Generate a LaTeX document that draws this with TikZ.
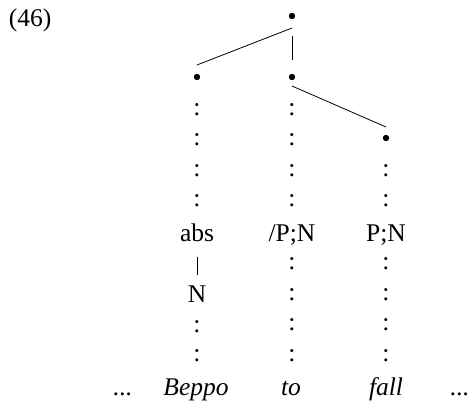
\documentclass[tikz,border=0pt]{standalone}
\usepackage{fontspec}
\setmainfont{Liberation Serif}
\begin{document}
\begin{tikzpicture}[x=1pt,y=-1pt,
  every node/.style={inner sep=0pt,outer sep=0pt,font=\fontsize{25.5}{30}\selectfont},
  dotnode/.style={circle,fill=black,minimum size=6.4pt},
  lbl/.style={anchor=base},
  colon/.style={anchor=base},
  link/.style={line width=0.8pt}]
\useasboundingbox (0,0) rectangle (471,403);
\node[lbl] (num) at (30,27) {(46)};
% dots
\node[dotnode] (r) at (292,16) {};
\node[dotnode] (a) at (197,77) {};
\node[dotnode] (m) at (292,77) {};
\node[dotnode] (b) at (386,138) {};
\draw[link] ([yshift=-12pt]r.center) -- ([yshift=12pt]a.center);
\draw[link] ([yshift=-20pt]r.center) -- ([yshift=17pt]m.center);
\draw[link] ([yshift=-9pt]m.center) -- ([yshift=11pt]b.center);
% colons upper
\foreach \y [count=\i] in {116,146,177,207}{
  \node[colon] (ca\i) at (197,\y) {:};
  \node[colon] (cm\i) at (292,\y) {:};
}
\foreach \y [count=\i] in {177,207}{
  \node[colon] (cb\i) at (386,\y) {:};
}
% labels
\node[lbl] (abs) at (197,241.7) {abs};
\node[lbl] (pn1) at (292,241.7) {/P;N};
\node[lbl] (pn2) at (386,241.7) {P;N};
\node[lbl] (n) at (197,302) {N};
\draw[link] ([yshift=-15pt]abs.base) -- ([yshift=27pt]n.base);
\foreach \y [count=\i] in {332,361}{
  \node[colon] (da\i) at (197,\y) {:};
}
\foreach \y [count=\i] in {270,300,330,361}{
  \node[colon] (dm\i) at (292,\y) {:};
  \node[colon] (db\i) at (386,\y) {:};
}
% words
\node[lbl] (d1) at (123,395) {\itshape ...};
\node[lbl] (w1) at (196,395) {\itshape Beppo};
\node[lbl] (w2) at (291,395) {\itshape to};
\node[lbl] (w3) at (386,395) {\itshape fall};
\node[lbl] (d2) at (460,395) {\itshape ...};
\end{tikzpicture}
\end{document}
